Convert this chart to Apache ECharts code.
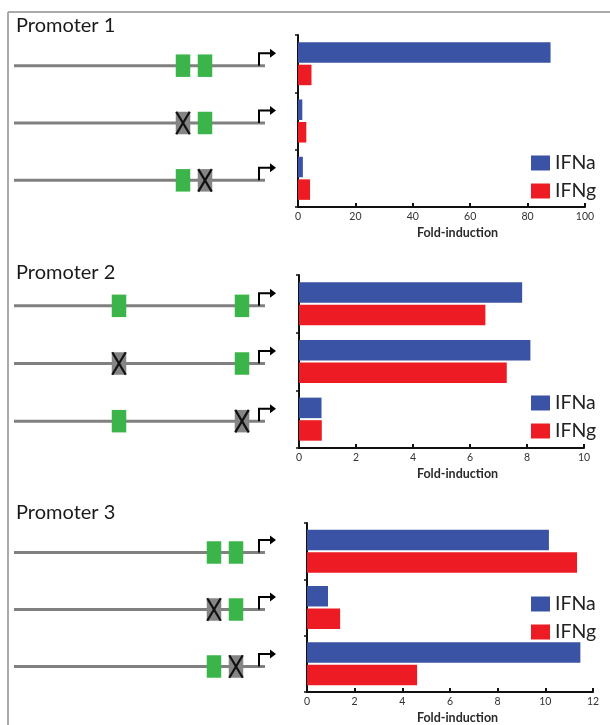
<!DOCTYPE html>
<html>
<head>
<meta charset="utf-8">
<script src="https://cdn.jsdelivr.net/npm/echarts@6/dist/echarts.min.js"></script>
<style>
html,body{margin:0;padding:0;background:#fff;}
#chart{width:610px;height:725px;}
</style>
</head>
<body>
<div id="chart"></div>
<script>
// ---- data ----
const constructs = ['Construct 1', 'Construct 2', 'Construct 3'];
const promoterTitles = ['Promoter 1', 'Promoter 2', 'Promoter 3'];
const seriesNames = ['IFNa', 'IFNg'];

const p1IFNa = [88, 1.5, 1.7];
const p1IFNg = [4.7, 2.9, 4.2];
const p2IFNa = [7.83, 8.12, 0.79];
const p2IFNg = [6.54, 7.29, 0.8];
const p3IFNa = [10.15, 0.88, 11.47];
const p3IFNg = [11.33, 1.39, 4.62];

const xMax = [100, 10, 12];
const xInterval = [20, 2, 2];
const xAxisName = 'Fold-induction';

// promoter schematic (arbitrary position units along the promoter)
const promoterLength = 251;
const tssPosition = 245;
const arrowEnd = 262;
const p1Sites = [169, 191];
const p2Sites = [105, 228];
const p3Sites = [200, 222];
// per construct: 1 = site mutated (X), 0 = intact
const p1Mutated = [[0, 0], [1, 0], [0, 1]];
const p2Mutated = [[0, 0], [1, 0], [0, 1]];
const p3Mutated = [[0, 0], [1, 0], [0, 1]];

const panels = [
  {a: p1IFNa, g: p1IFNg, sites: p1Sites, mut: p1Mutated},
  {a: p2IFNa, g: p2IFNg, sites: p2Sites, mut: p2Mutated},
  {a: p3IFNa, g: p3IFNg, sites: p3Sites, mut: p3Mutated}
];

// ---- layout ----
const barGrids = [
  {left: 298, right: 25, top: 35, height: 172},
  {left: 299, right: 26, top: 275, height: 173},
  {left: 307, right: 17, top: 523, height: 171}
];
const diagGrids = [
  {left: 14, width: 262, top: 37, height: 172},
  {left: 14, width: 262, top: 277, height: 173},
  {left: 14, width: 262, top: 524, height: 171}
];
const titleTops = [16, 263, 503];
const legendTops = [148, 388, 589];

const BLUE = '#3a53a4';
const RED = '#ed1c24';
const GREEN = '#3bb54a';
const FONT = 'Lato, "Noto Sans", sans-serif';

const grid = [], xAxis = [], yAxis = [], series = [], legend = [], title = [];

panels.forEach((p, i) => {
  grid.push(Object.assign({containLabel: false}, barGrids[i]));
  xAxis.push({
    gridIndex: i, type: 'value', min: 0, max: xMax[i], interval: xInterval[i],
    name: xAxisName, nameLocation: 'middle', nameGap: 19,
    nameTextStyle: {fontFamily: FONT, fontSize: 12.5, fontWeight: 'bold', color: '#2a2a2a',
      padding: [0, 0, 0, i === 2 ? 15 : 32]},
    axisLine: {show: true, lineStyle: {color: '#111', width: 2}},
    axisTick: {show: true, inside: true, length: 4, lineStyle: {color: '#111', width: 2}},
    axisLabel: {fontFamily: FONT, fontSize: 10.5, color: '#333', margin: 4},
    splitLine: {show: false}
  });
  yAxis.push({
    gridIndex: i, type: 'category', data: constructs, inverse: true,
    axisLine: {show: true, lineStyle: {color: '#111', width: 2}},
    axisTick: {show: true, inside: false, length: 3, lineStyle: {color: '#111', width: 1.5}},
    axisLabel: {show: false},
    splitLine: {show: false}
  });
  series.push({
    type: 'bar', name: seriesNames[0], xAxisIndex: i, yAxisIndex: i,
    data: p.a, barWidth: 20.5, barGap: '10%', itemStyle: {color: BLUE}
  });
  series.push({
    type: 'bar', name: seriesNames[1], xAxisIndex: i, yAxisIndex: i,
    data: p.g, barWidth: 20.5, barGap: '10%', itemStyle: {color: RED}
  });
  legend.push({
    data: seriesNames, orient: 'vertical', left: 526, top: legendTops[i],
    icon: 'rect', itemWidth: 19, itemHeight: 15, itemGap: 8, selectedMode: false,
    textStyle: {fontFamily: FONT, fontSize: 19.5, color: '#222', lineHeight: 15}
  });
  title.push({
    text: promoterTitles[i], left: 16, top: titleTops[i], padding: 0,
    textStyle: {fontFamily: FONT, fontSize: 20, fontWeight: 'normal', color: '#1a1a1a'}
  });
});

// schematic grids / axes
panels.forEach((p, i) => {
  const gi = 3 + i;
  grid.push(Object.assign({}, diagGrids[i]));
  xAxis.push({gridIndex: gi, type: 'value', min: 0, max: arrowEnd, show: false});
  yAxis.push({gridIndex: gi, type: 'category', data: constructs, inverse: true, show: false});
  series.push({
    type: 'custom', name: promoterTitles[i] + ' schematic',
    xAxisIndex: gi, yAxisIndex: gi, silent: true,
    data: p.mut.map((m, r) => [r].concat(m)),
    renderItem: function (params, api) {
      const row = api.value(0);
      const s = api.coord([0, row]);
      const e = api.coord([promoterLength, row]);
      const y = s[1];
      const children = [{
        type: 'line', shape: {x1: s[0], y1: y, x2: e[0], y2: y},
        style: {stroke: '#808080', lineWidth: 3}
      }];
      p.sites.forEach((pos, k) => {
        const c = api.coord([pos, row]);
        const mutated = api.value(1 + k) === 1;
        const w = 14.5, h = 22.5;
        const x0 = c[0] - w / 2, y0 = y - h / 2;
        children.push({
          type: 'rect', shape: {x: x0, y: y0, width: w, height: h},
          style: {fill: mutated ? '#858585' : GREEN}
        });
        if (mutated) {
          children.push({type: 'line', shape: {x1: x0 + 0.5, y1: y0, x2: x0 + w - 0.5, y2: y0 + h},
            style: {stroke: '#111', lineWidth: 2.2}});
          children.push({type: 'line', shape: {x1: x0 + w - 0.5, y1: y0, x2: x0 + 0.5, y2: y0 + h},
            style: {stroke: '#111', lineWidth: 2.2}});
        }
      });
      const t = api.coord([tssPosition, row]);
      const a = api.coord([arrowEnd, row]);
      const ty = y - 12.5;
      children.push({
        type: 'polyline', shape: {points: [[t[0], y], [t[0], ty], [a[0] - 5, ty]]},
        style: {stroke: '#000', lineWidth: 2, fill: null}
      });
      children.push({
        type: 'polygon', shape: {points: [[a[0] - 6, ty - 4.5], [a[0], ty], [a[0] - 6, ty + 4.5]]},
        style: {fill: '#000'}
      });
      return {type: 'group', children: children};
    }
  });
});

const chart = echarts.init(document.getElementById('chart'), null, {renderer: 'canvas'});
chart.setOption({
  animation: false,
  backgroundColor: '#fff',
  title: title,
  legend: legend,
  grid: grid,
  xAxis: xAxis,
  yAxis: yAxis,
  series: series,
  graphic: [
    {type: 'line', shape: {x1: 8, y1: 12, x2: 610, y2: 12}, style: {stroke: '#aaa', lineWidth: 2}, silent: true},
    {type: 'line', shape: {x1: 8, y1: 12, x2: 8, y2: 725}, style: {stroke: '#aaa', lineWidth: 2}, silent: true}
  ]
});
</script>
</body>
</html>
